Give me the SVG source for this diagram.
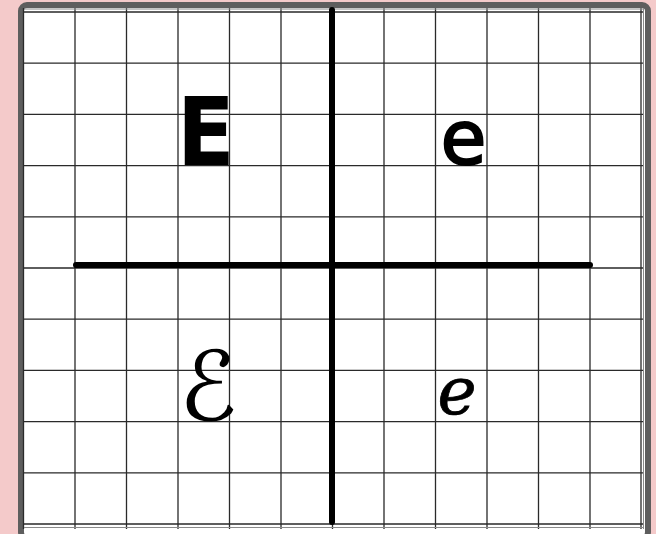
<svg xmlns="http://www.w3.org/2000/svg" width="656" height="534" viewBox="0 0 656 534">
<style>
.g{stroke:#2a2a2a;stroke-width:1.3;fill:none}
.gl{stroke:#8a8a8a;stroke-width:1;fill:none}
.ax{stroke:#000;stroke-width:6;stroke-linecap:round}
.t{font-family:"DejaVu Sans",sans-serif;fill:#000;text-anchor:middle}
</style>
<rect x="0" y="0" width="656" height="534" fill="#f4caca"/>
<rect id="frame" x="21" y="5" width="627" height="533" rx="6" fill="#fff" stroke="#5e5e5e" stroke-width="6"/>
<g id="grid">
<path class="g" d="M23.5 8V529M75 8V529M126.5 8V529M178 8V529M229.5 8V529M281 8V529M332.5 8V529M384 8V529M435.5 8V529M487 8V529M538.5 8V529M590 8V529M641 8V529"/>
<path class="g" d="M24 12H644M24 63.2H644M24 114.4H644M24 165.6H644M24 216.8H644M24 268H644M24 319.2H644M24 370.4H644M24 421.6H644M24 472.8H644M24 524H644"/>
<path class="gl" d="M643.5 8V529M24 527.5H644M24 9H644"/>
</g>
<g id="connectors">
<line class="ax" x1="332" y1="10" x2="332" y2="522"/>
<line class="ax" x1="76" y1="265" x2="590" y2="265"/>
</g>
<g id="E-print"><text class="t" x="206" y="165" font-size="94" font-weight="bold" transform="translate(206 0) scale(0.9 1) translate(-206 0)">E</text></g>
<g id="e-print"><text class="t" x="463.5" y="164" font-size="74" stroke="#000" stroke-width="2.2">e</text></g>
<g id="E-cursive"><text class="t" x="208" y="420" font-size="96">ℰ</text></g>
<g id="e-cursive"><text class="t" x="457" y="414" font-size="66" stroke="#000" stroke-width="0.8">ℯ</text></g>
</svg>
